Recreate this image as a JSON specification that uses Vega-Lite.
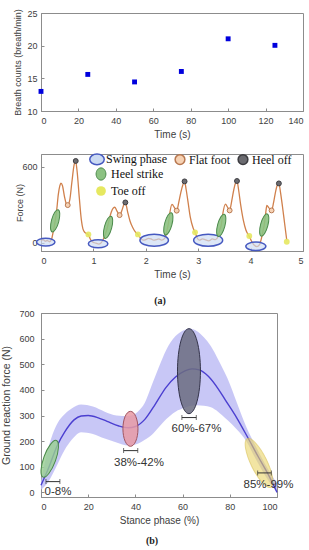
{
  "$schema": "https://vega.github.io/schema/vega-lite/v6.json",
  "background": "white",
  "padding": {"left": 1, "top": 8, "right": 4, "bottom": 2},
  "config": {
    "font": "Liberation Sans",
    "view": {"stroke": "#8c8c8c", "strokeWidth": 1},
    "axis": {"grid": false, "labelOverlap": false, "labelFont": "Liberation Sans", "labelFontSize": 9, "labelColor": "#404040", "titleFont": "Liberation Sans", "titleFontSize": 10, "titleFontWeight": "normal", "titleColor": "#404040", "domainColor": "#8c8c8c", "tickColor": "#8c8c8c", "tickSize": -3, "labelPadding": 7, "titlePadding": 4},
    "axisX": {"labelPadding": 8},
    "axisY": {"titlePadding": 0},
    "title": {"font": "Liberation Serif", "fontSize": 10, "fontWeight": "bold", "color": "#222222"}
  },
  "datasets": {
    "breath": [
      {"time": 0, "breaths": 13.0}, {"time": 25, "breaths": 15.6}, {"time": 50, "breaths": 14.45},
      {"time": 75, "breaths": 16.05}, {"time": 100, "breaths": 21.05}, {"time": 125, "breaths": 20.05}
    ],
    "force": [
      {"t":0,"F":15},{"t":0.04,"F":25},{"t":0.08,"F":12},{"t":0.12,"F":18},{"t":0.16,"F":8},{"t":0.2,"F":25},{"t":0.23,"F":80},{"t":0.27,"F":170},{"t":0.3,"F":260},{"t":0.33,"F":380},{"t":0.36,"F":450},{"t":0.38,"F":470},{"t":0.41,"F":450},{"t":0.45,"F":360},{"t":0.48,"F":310},{"t":0.51,"F":297},{"t":0.55,"F":340},{"t":0.59,"F":480},{"t":0.63,"F":610},{"t":0.66,"F":645},{"t":0.69,"F":560},{"t":0.73,"F":360},{"t":0.77,"F":180},{"t":0.8,"F":110},{"t":0.84,"F":80},{"t":0.88,"F":70},{"t":0.905,"F":62},{"t":0.94,"F":30},{"t":0.98,"F":8},
      {"t":1.02,"F":0},{"t":1.06,"F":-5},{"t":1.1,"F":-10},{"t":1.14,"F":-3},{"t":1.18,"F":20},{"t":1.22,"F":60},{"t":1.26,"F":110},{"t":1.3,"F":180},{"t":1.34,"F":240},{"t":1.38,"F":275},{"t":1.41,"F":280},{"t":1.45,"F":250},{"t":1.5,"F":218},{"t":1.54,"F":250},{"t":1.58,"F":300},{"t":1.61,"F":318},{"t":1.65,"F":250},{"t":1.7,"F":170},{"t":1.75,"F":120},{"t":1.8,"F":85},{"t":1.85,"F":66},{"t":1.9,"F":35},{"t":1.95,"F":20},
      {"t":2.0,"F":25},{"t":2.05,"F":35},{"t":2.1,"F":30},{"t":2.15,"F":20},{"t":2.2,"F":25},{"t":2.25,"F":30},{"t":2.3,"F":20},{"t":2.36,"F":35},{"t":2.4,"F":90},{"t":2.43,"F":150},{"t":2.46,"F":240},{"t":2.5,"F":302},{"t":2.55,"F":275},{"t":2.59,"F":253},{"t":2.63,"F":320},{"t":2.67,"F":400},{"t":2.71,"F":460},{"t":2.74,"F":484},{"t":2.77,"F":420},{"t":2.81,"F":310},{"t":2.85,"F":200},{"t":2.9,"F":120},{"t":2.94,"F":82},{"t":2.98,"F":40},
      {"t":3.02,"F":20},{"t":3.08,"F":30},{"t":3.13,"F":25},{"t":3.2,"F":15},{"t":3.27,"F":30},{"t":3.33,"F":25},{"t":3.38,"F":50},{"t":3.41,"F":100},{"t":3.44,"F":140},{"t":3.47,"F":230},{"t":3.52,"F":305},{"t":3.56,"F":280},{"t":3.6,"F":255},{"t":3.64,"F":330},{"t":3.68,"F":420},{"t":3.71,"F":470},{"t":3.74,"F":487},{"t":3.77,"F":420},{"t":3.81,"F":300},{"t":3.86,"F":180},{"t":3.91,"F":100},{"t":3.975,"F":50},
      {"t":4.02,"F":10},{"t":4.07,"F":-20},{"t":4.12,"F":-30},{"t":4.17,"F":-15},{"t":4.21,"F":40},{"t":4.24,"F":100},{"t":4.26,"F":140},{"t":4.29,"F":240},{"t":4.31,"F":295},{"t":4.35,"F":275},{"t":4.4,"F":255},{"t":4.44,"F":320},{"t":4.48,"F":410},{"t":4.51,"F":455},{"t":4.54,"F":468},{"t":4.57,"F":400},{"t":4.61,"F":280},{"t":4.65,"F":150},{"t":4.69,"F":20}
    ],
    "events": [
      {"t":0.09,"F":5,"event":"Swing phase","dur":0.35},
      {"t":1.09,"F":-8,"event":"Swing phase","dur":0.37},
      {"t":2.16,"F":20,"event":"Swing phase","dur":0.54},
      {"t":3.19,"F":20,"event":"Swing phase","dur":0.55},
      {"t":4.10,"F":-28,"event":"Swing phase","dur":0.38},
      {"t":0.27,"F":173,"event":"Heel strike"},
      {"t":1.28,"F":122,"event":"Heel strike"},
      {"t":2.43,"F":149,"event":"Heel strike"},
      {"t":3.44,"F":137,"event":"Heel strike"},
      {"t":4.26,"F":140,"event":"Heel strike"},
      {"t":0.51,"F":297,"event":"Flat foot"},
      {"t":1.50,"F":218,"event":"Flat foot"},
      {"t":2.59,"F":253,"event":"Flat foot"},
      {"t":3.60,"F":255,"event":"Flat foot"},
      {"t":4.40,"F":255,"event":"Flat foot"},
      {"t":0.663,"F":645,"event":"Heel off"},
      {"t":1.61,"F":318,"event":"Heel off"},
      {"t":2.74,"F":484,"event":"Heel off"},
      {"t":3.74,"F":487,"event":"Heel off"},
      {"t":4.54,"F":468,"event":"Heel off"},
      {"t":0.905,"F":66,"event":"Toe off"},
      {"t":1.85,"F":66,"event":"Toe off"},
      {"t":2.94,"F":82,"event":"Toe off"},
      {"t":3.975,"F":53,"event":"Toe off"},
      {"t":4.69,"F":8,"event":"Toe off"}
    ],
    "band": [
      {"x":0,"hi":45,"lo":10},{"x":3,"hi":170,"lo":40},{"x":7,"hi":270,"lo":110},{"x":10,"hi":305,"lo":165},{"x":13,"hi":327,"lo":205},{"x":17,"hi":343,"lo":235},{"x":22,"hi":335,"lo":228},{"x":27,"hi":315,"lo":210},{"x":32,"hi":300,"lo":195},{"x":37,"hi":298,"lo":183},{"x":41,"hi":315,"lo":190},{"x":44,"hi":350,"lo":205},{"x":47,"hi":420,"lo":225},{"x":50,"hi":490,"lo":255},{"x":53,"hi":555,"lo":285},{"x":57,"hi":610,"lo":315},{"x":61,"hi":635,"lo":330},{"x":63,"hi":640,"lo":337},{"x":66,"hi":630,"lo":340},{"x":69,"hi":605,"lo":338},{"x":72,"hi":570,"lo":332},{"x":75,"hi":520,"lo":315},{"x":79,"hi":445,"lo":282},{"x":83,"hi":350,"lo":245},{"x":87,"hi":255,"lo":200},{"x":91,"hi":180,"lo":130},{"x":95,"hi":110,"lo":65},{"x":100,"hi":35,"lo":0}
    ],
    "mean": [
      {"x":0,"F":28},{"x":3,"F":90},{"x":7,"F":185},{"x":10,"F":235},{"x":14,"F":283},{"x":17,"F":298},{"x":20,"F":300},{"x":24,"F":292},{"x":28,"F":277},{"x":33,"F":259},{"x":37,"F":252},{"x":40,"F":257},{"x":44,"F":285},{"x":48,"F":338},{"x":53,"F":410},{"x":57,"F":450},{"x":61,"F":474},{"x":64,"F":482},{"x":67,"F":478},{"x":71,"F":452},{"x":75,"F":405},{"x":78,"F":362},{"x":83,"F":290},{"x":87.5,"F":216},{"x":92,"F":140},{"x":96,"F":75},{"x":100,"F":0}
    ],
    "phases": [
      {"phase":"heel strike","label":"0-8%","cx":3.7,"cy":131,"lo":2.1,"hi":8,"bar":42,"lx":7.2,"ly":0},
      {"phase":"flat foot","label":"38%-42%","cx":37.9,"cy":248,"lo":35,"hi":41,"bar":163,"lx":41.5,"ly":116},
      {"phase":"heel off","label":"60%-67%","cx":62.7,"cy":473,"lo":59.7,"hi":65.8,"bar":292,"lx":65.9,"ly":246},
      {"phase":"toe off","label":"85%-99%","cx":92.4,"cy":115,"lo":91.8,"hi":97.6,"bar":76,"lx":96.4,"ly":30}
    ]
  },
  "columns": 1,
  "align": "none",
  "spacing": 1,
  "concat": [
    {
      "spacing": 13,
      "vconcat": [
        {
          "width": 262, "height": 98,
          "data": {"name": "breath"},
          "mark": {"type": "point", "shape": "square", "filled": true, "size": 24, "color": "#0000dd", "opacity": 1},
          "encoding": {
            "x": {"field": "time", "type": "quantitative", "scale": {"domain": [0, 140], "nice": false}, "axis": {"title": "Time (s)", "values": [0, 20, 40, 60, 80, 100, 120, 140]}},
            "y": {"field": "breaths", "type": "quantitative", "scale": {"domain": [10, 25], "nice": false, "zero": false}, "axis": {"title": "Breath counts (breath/min)", "titleFontSize": 9, "titlePadding": 4, "values": [10, 15, 20, 25]}}
          }
        },
        {
          "width": 262, "height": 97,
          "title": {"text": "(a)", "orient": "bottom", "anchor": "middle", "frame": "group", "dx": -12, "offset": 17},
          "layer": [
            {
              "data": {"name": "force"},
              "mark": {"type": "line", "color": "#d0804c", "strokeWidth": 1.3, "interpolate": "monotone"},
              "encoding": {
                "x": {"field": "t", "type": "quantitative", "scale": {"domain": [0, 5], "nice": false}, "axis": {"title": "Time (s)", "values": [0, 1, 2, 3, 4, 5]}},
                "y": {"field": "F", "type": "quantitative", "scale": {"domain": [-65, 700], "nice": false, "zero": false}, "axis": {"title": "Force (N)", "titleFontSize": 9, "titlePadding": -3, "values": [0, 200, 400, 600]}}
              }
            },
            {
              "data": {"name": "events"},
              "transform": [{"filter": "datum.event === 'Swing phase'"}],
              "mark": {"type": "point", "shape": "M-1,0A1,0.42,0,1,1,1,0A1,0.42,0,1,1,-1,0Z", "filled": true, "fillOpacity": 0.65, "strokeWidth": 1.5, "opacity": 1},
              "encoding": {
                "x": {"field": "t", "type": "quantitative"},
                "y": {"field": "F", "type": "quantitative"},
                "fill": {"field": "event", "type": "nominal", "scale": {"domain": ["Swing phase", "Flat foot", "Heel off"], "range": ["#cbdaf2", "#f6d2b4", "#6b6b70"]},
                  "legend": {"title": null, "orient": "none", "legendX": 50, "legendY": 140, "direction": "horizontal", "columnPadding": 5, "symbolSize": 225, "symbolStrokeWidth": 1.5, "symbolOpacity": 1, "labelFont": "Liberation Serif", "labelFontSize": 12, "labelColor": "#111111", "labelOffset": 3,
                    "encode": {"symbols": {"update": {"shape": {"signal": "datum.value === 'Swing phase' ? 'M-1,0A1,0.73,0,1,1,1,0A1,0.73,0,1,1,-1,0Z' : 'circle'"}, "size": {"signal": "datum.value === 'Swing phase' ? 210 : 95"}}}}}},
                "stroke": {"field": "event", "type": "nominal", "scale": {"domain": ["Swing phase", "Flat foot", "Heel off"], "range": ["#4659c0", "#b87850", "#3c3c40"]},
                  "legend": {"title": null, "orient": "none", "legendX": 50, "legendY": 140, "direction": "horizontal", "columnPadding": 5, "symbolSize": 225, "symbolStrokeWidth": 1.5, "symbolOpacity": 1, "labelFont": "Liberation Serif", "labelFontSize": 12, "labelColor": "#111111", "labelOffset": 3,
                    "encode": {"symbols": {"update": {"shape": {"signal": "datum.value === 'Swing phase' ? 'M-1,0A1,0.73,0,1,1,1,0A1,0.73,0,1,1,-1,0Z' : 'circle'"}, "size": {"signal": "datum.value === 'Swing phase' ? 210 : 95"}}}}}},
                "size": {"field": "dur", "type": "quantitative", "scale": {"type": "pow", "exponent": 2, "domain": [0, 0.55], "range": [0, 841]}, "legend": null}
              }
            },
            {
              "data": {"name": "events"},
              "transform": [{"filter": "datum.event === 'Toe off'"}],
              "mark": {"type": "point", "shape": "circle", "size": 34, "filled": true, "opacity": 0.9},
              "encoding": {
                "x": {"field": "t", "type": "quantitative"},
                "y": {"field": "F", "type": "quantitative"},
                "color": {"field": "event", "type": "nominal", "scale": {"domain": ["Heel strike", "Toe off"], "range": ["#8cc282", "#e6e860"]},
                  "legend": {"title": null, "orient": "none", "legendX": 54, "legendY": 155, "direction": "vertical", "rowPadding": 1, "symbolSize": 150, "symbolOpacity": 1, "labelFont": "Liberation Serif", "labelFontSize": 12, "labelColor": "#111111", "labelOffset": 4,
                    "encode": {"symbols": {"update": {"shape": {"signal": "datum.value === 'Heel strike' ? 'M0,-1A0.8,1,0,1,1,0,1A0.8,1,0,1,1,0,-1Z' : 'circle'"}, "size": {"signal": "datum.value === 'Heel strike' ? 150 : 95"}, "stroke": {"signal": "datum.value === 'Heel strike' ? '#4b8a4b' : 'transparent'"}, "strokeWidth": {"value": 1}}}}}}
              }
            },
            {
              "data": {"name": "events"},
              "transform": [{"filter": "datum.event === 'Heel strike'"}],
              "mark": {"type": "point", "shape": "M0,-1A0.32,1,0,1,1,0,1A0.32,1,0,1,1,0,-1Z", "size": 529, "angle": 15, "filled": true, "fillOpacity": 0.9, "stroke": "#4b8a4b", "strokeWidth": 1, "opacity": 1},
              "encoding": {
                "x": {"field": "t", "type": "quantitative"},
                "y": {"field": "F", "type": "quantitative"},
                "color": {"field": "event", "type": "nominal", "scale": {"domain": ["Heel strike", "Toe off"], "range": ["#8cc282", "#e6e860"]}, "legend": null}
              }
            },
            {
              "data": {"name": "events"},
              "transform": [{"filter": "datum.event === 'Flat foot' || datum.event === 'Heel off'"}],
              "mark": {"type": "point", "shape": "circle", "size": 24, "filled": true, "strokeWidth": 1, "opacity": 1},
              "encoding": {
                "x": {"field": "t", "type": "quantitative"},
                "y": {"field": "F", "type": "quantitative"},
                "fill": {"field": "event", "type": "nominal", "scale": {"domain": ["Swing phase", "Flat foot", "Heel off"], "range": ["#cbdaf2", "#f6d2b4", "#6b6b70"]}},
                "stroke": {"field": "event", "type": "nominal", "scale": {"domain": ["Swing phase", "Flat foot", "Heel off"], "range": ["#4659c0", "#b87850", "#3c3c40"]}}
              }
            }
          ]
        }
      ]
    },
    {
      "width": 236, "height": 184,
      "title": {"text": "(b)", "orient": "bottom", "anchor": "middle", "frame": "group", "dx": -7, "offset": 11},
      "layer": [
        {
          "data": {"name": "band"},
          "mark": {"type": "area", "color": "#bebdf4", "opacity": 0.85, "interpolate": "monotone"},
          "encoding": {
            "x": {"field": "x", "type": "quantitative", "scale": {"domain": [0, 100], "nice": false}, "axis": {"title": "Stance phase (%)", "values": [0, 20, 40, 60, 80, 100]}},
            "y": {"field": "hi", "type": "quantitative", "scale": {"domain": [-18, 700], "nice": false, "zero": false}, "axis": {"title": "Ground reaction force (N)", "tickCount": 8, "values": [0, 100, 200, 300, 400, 500, 600, 700], "labelOverlap": false, "titleFontSize": 10.5, "labelPadding": 10, "titlePadding": 7}},
            "y2": {"field": "lo"}
          }
        },
        {
          "data": {"name": "mean"},
          "mark": {"type": "line", "color": "#4b3fd0", "strokeWidth": 1.4, "interpolate": "monotone"},
          "encoding": {
            "x": {"field": "x", "type": "quantitative", "axis": {"title": "Stance phase (%)", "values": [0, 20, 40, 60, 80, 100]}},
            "y": {"field": "F", "type": "quantitative", "axis": {"title": "Ground reaction force (N)", "tickCount": 8, "values": [0, 100, 200, 300, 400, 500, 600, 700], "labelOverlap": false, "titleFontSize": 10.5, "labelPadding": 10, "titlePadding": 7}}
          }
        },
        {
          "data": {"name": "phases"},
          "transform": [{"filter": "datum.phase === 'heel strike'"}],
          "mark": {"type": "point", "shape": "M0,-1A0.31,1,0,1,1,0,1A0.31,1,0,1,1,0,-1Z", "size": 1521, "angle": 20, "filled": true, "fill": "#98cf90", "fillOpacity": 0.8, "stroke": "#4a8a4a", "strokeWidth": 1, "opacity": 1},
          "encoding": {"x": {"field": "cx", "type": "quantitative"}, "y": {"field": "cy", "type": "quantitative"}}
        },
        {
          "data": {"name": "phases"},
          "transform": [{"filter": "datum.phase === 'flat foot'"}],
          "mark": {"type": "point", "shape": "M0,-1A0.43,1,0,1,1,0,1A0.43,1,0,1,1,0,-1Z", "size": 1225, "filled": true, "fill": "#e79aa5", "fillOpacity": 0.85, "stroke": "#a05560", "strokeWidth": 1, "opacity": 1},
          "encoding": {"x": {"field": "cx", "type": "quantitative"}, "y": {"field": "cy", "type": "quantitative"}}
        },
        {
          "data": {"name": "phases"},
          "transform": [{"filter": "datum.phase === 'heel off'"}],
          "mark": {"type": "point", "shape": "M0,-1A0.27,1,0,1,1,0,1A0.27,1,0,1,1,0,-1Z", "size": 7225, "filled": true, "fill": "#6b6c80", "fillOpacity": 0.85, "stroke": "#34344a", "strokeWidth": 1, "opacity": 1},
          "encoding": {"x": {"field": "cx", "type": "quantitative"}, "y": {"field": "cy", "type": "quantitative"}}
        },
        {
          "data": {"name": "phases"},
          "transform": [{"filter": "datum.phase === 'toe off'"}],
          "mark": {"type": "point", "shape": "M0,-1A0.3,1,0,1,1,0,1A0.3,1,0,1,1,0,-1Z", "size": 2916, "angle": -26, "filled": true, "fill": "#ead466", "fillOpacity": 0.6, "stroke": "#d9c25a", "strokeWidth": 1, "strokeOpacity": 0.6, "opacity": 1},
          "encoding": {"x": {"field": "cx", "type": "quantitative"}, "y": {"field": "cy", "type": "quantitative"}}
        },
        {
          "data": {"name": "phases"},
          "mark": {"type": "rule", "color": "#333333", "strokeWidth": 1},
          "encoding": {"x": {"field": "lo", "type": "quantitative"}, "x2": {"field": "hi"}, "y": {"field": "bar", "type": "quantitative"}}
        },
        {
          "data": {"name": "phases"},
          "mark": {"type": "tick", "orient": "vertical", "color": "#333333", "size": 5, "thickness": 1},
          "encoding": {"x": {"field": "lo", "type": "quantitative"}, "y": {"field": "bar", "type": "quantitative"}}
        },
        {
          "data": {"name": "phases"},
          "mark": {"type": "tick", "orient": "vertical", "color": "#333333", "size": 5, "thickness": 1},
          "encoding": {"x": {"field": "hi", "type": "quantitative"}, "y": {"field": "bar", "type": "quantitative"}}
        },
        {
          "data": {"name": "phases"},
          "mark": {"type": "text", "font": "Liberation Sans", "fontSize": 11.5, "color": "#333333", "align": "center", "baseline": "middle"},
          "encoding": {"x": {"field": "lx", "type": "quantitative"}, "y": {"field": "ly", "type": "quantitative"}, "text": {"field": "label"}}
        }
      ]
    }
  ]
}
